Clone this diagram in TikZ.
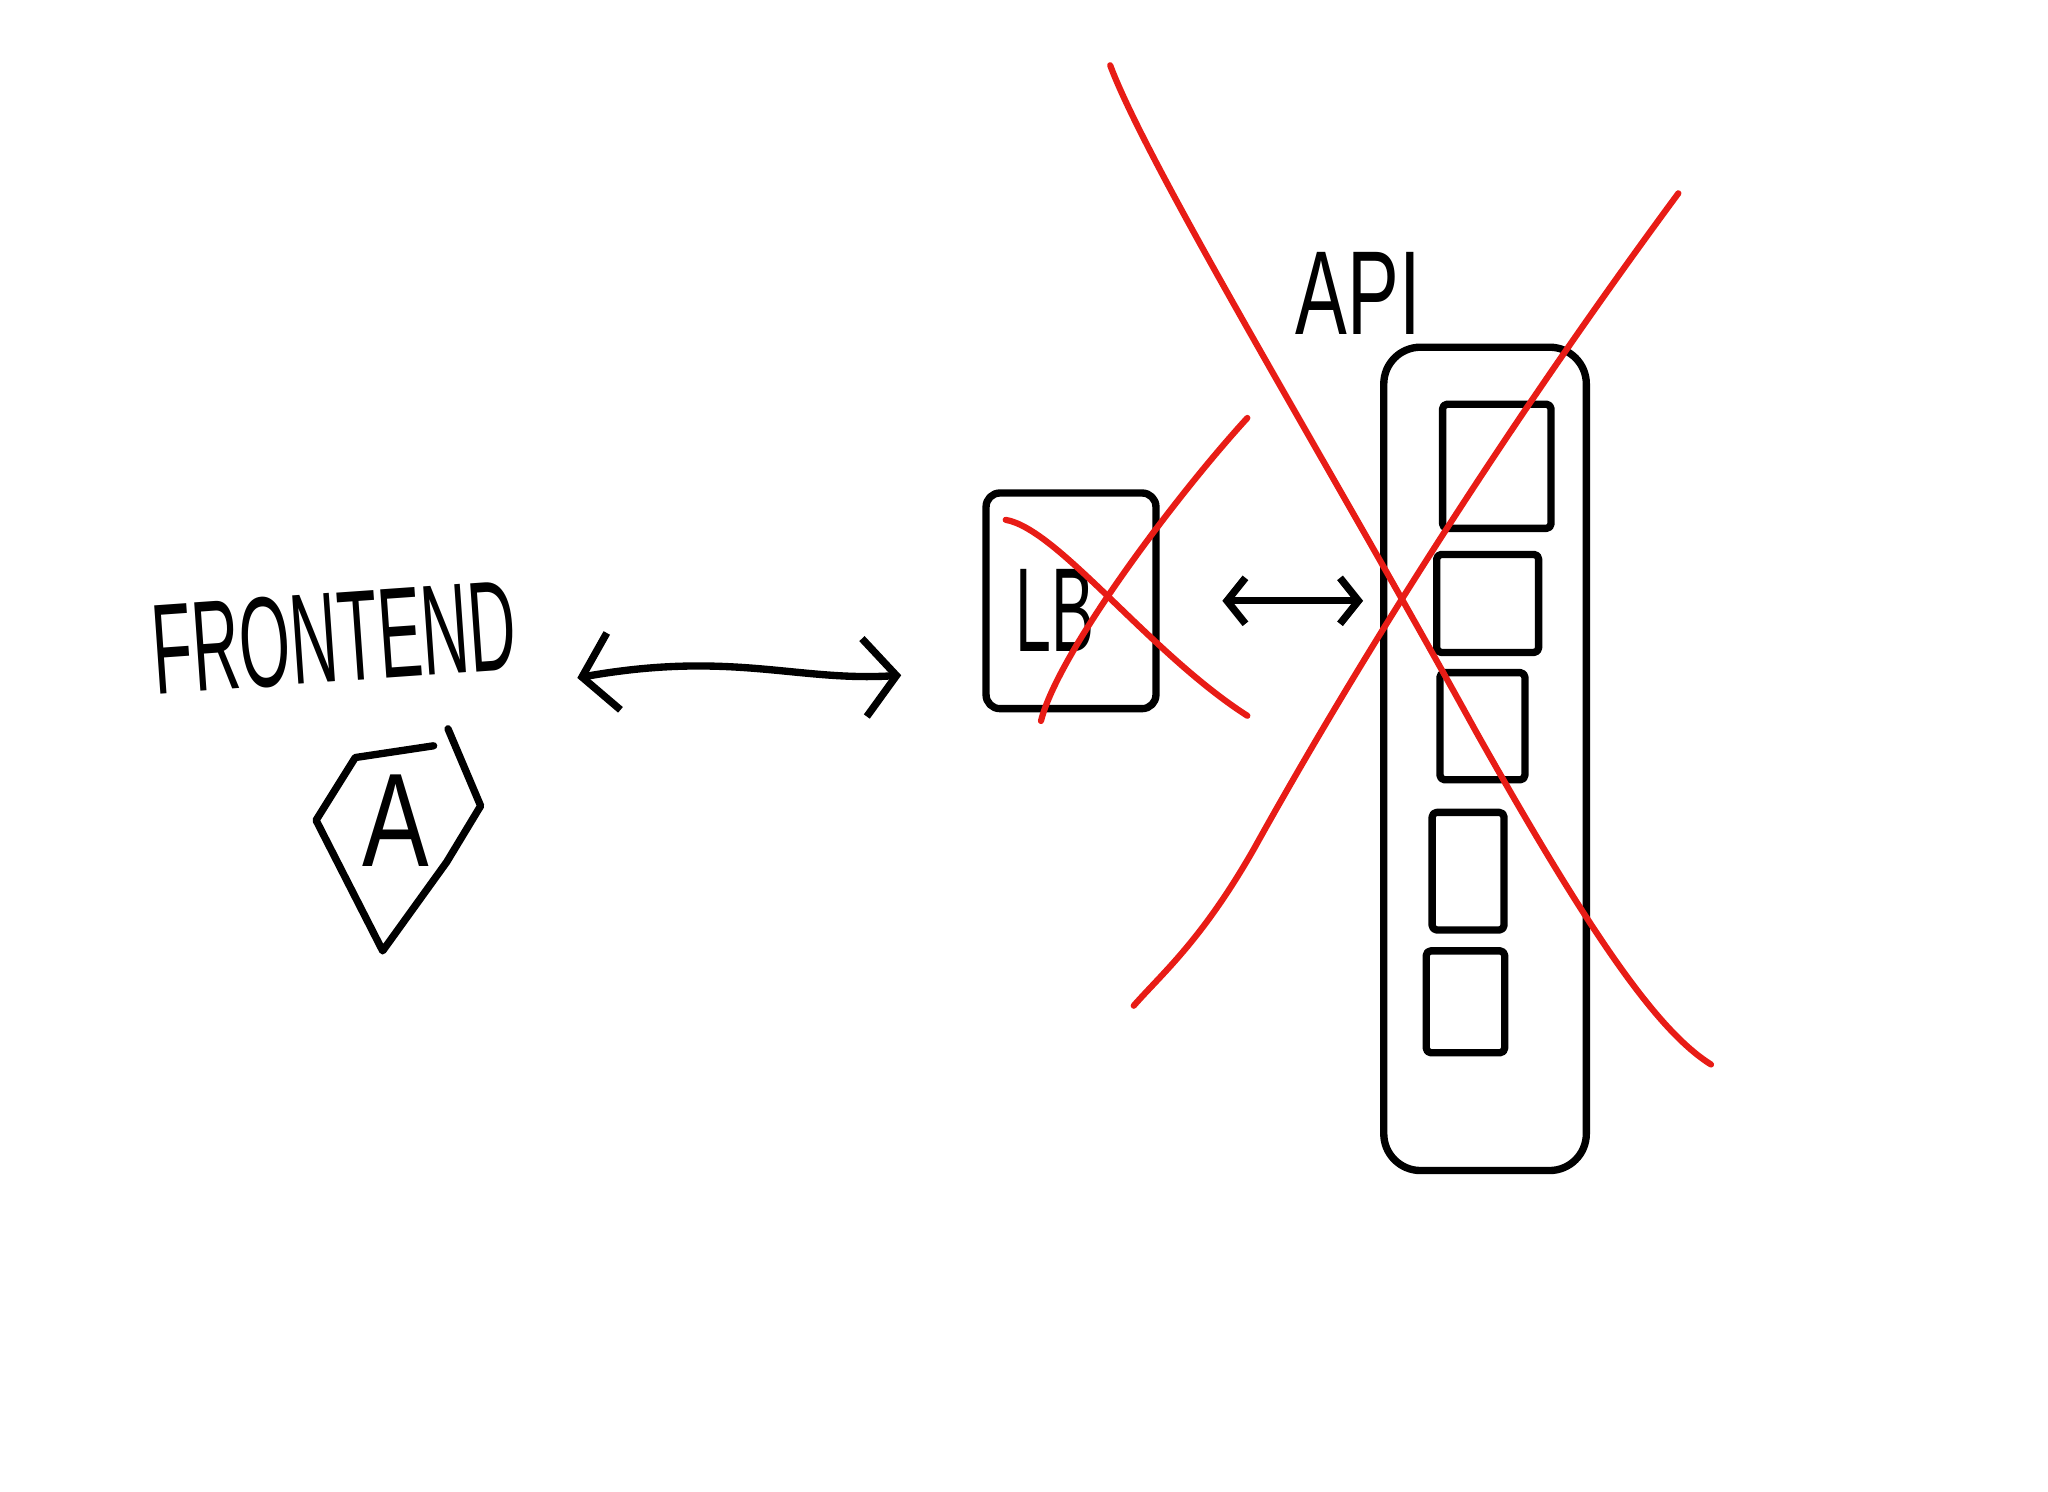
\documentclass[tikz,border=0pt]{standalone}
\usepackage{fontspec}
\setmainfont{Liberation Sans}
\usetikzlibrary{arrows.meta,positioning}
\definecolor{crossred}{RGB}{232,28,22}

\begin{document}
\begin{tikzpicture}[x=0.01cm, y=-0.01cm,
        sketch/.style={line width=1.6pt, line cap=round, line join=round},
        strike/.style={crossred, line width=1.35pt, line cap=round},
        box/.style={draw, sketch, rounded corners=3pt, inner sep=0pt},
        hand/.style={font=\fontsize{#1}{#1}\selectfont, inner sep=0pt},
        wide/.style={sketch, {Straight Barb[length=7pt, width=17pt]}-{Straight Barb[length=7pt, width=17pt]}},
        narrow/.style={sketch, {Straight Barb[length=4pt, width=10pt]}-{Straight Barb[length=4pt, width=10pt]}}]
        \useasboundingbox (0,0) rectangle (1568,1142);

        % Define nodes
        \node[hand=28, rotate=4] (front) at (256,488) {\scalebox{0.51}[1]{FRONTEND}};
        \node[hand=29] (a) at (303,628) {\scalebox{0.75}[1]{A}};
        \node[box, minimum width=1.3cm, minimum height=1.65cm] (lb) at (820,460) {};
        \node[hand=26] (lbtext) at (808,467) {\scalebox{0.54}[1]{LB}};
        \node[box, rounded corners=8pt, minimum width=1.55cm, minimum height=6.3cm] (api) at (1137,581) {};
        \node[hand=26] (apilabel) at (1040,225) {\scalebox{0.65}[1]{API}};

        % Boxes inside the API
        \foreach \cx/\cy/\w/\h [count=\i] in {1146/357/83/95, 1139/462/78/75, 1135/556/65/82, 1124/667/55/90, 1122/767/60/78}
            \node[box, rounded corners=1pt, minimum width=\w*0.1mm, minimum height=\h*0.1mm] (srv\i) at (\cx,\cy) {};

        % Shape round A
        \draw[sketch] (332,571) -- (272,580) -- (242,628) -- (293,728) -- (342,660) -- (368,617) -- (343,558);

        % Draw arrows
        \coordinate (fl) at (442,519);
        \coordinate (fr) at (690,517);
        \draw[wide] (fl) .. controls (560,498) and (610,522) .. (fr);
        \draw[narrow, shorten <=4.8mm, shorten >=1.3mm] (lb.east) -- (lb.east -| api.west);

        % Cross out LB and API
        \draw[strike] (770,398) .. controls (810,405) and (880,500) .. (955,548);
        \draw[strike] (797,552) .. controls (810,500) and (900,380) .. (955,320);
        \draw[strike] (850,50) .. controls (880,130) and (1020,360) .. (1130,560) .. controls (1220,720) and (1270,790) .. (1310,815);
        \draw[strike] (1285,148) .. controls (1180,290) and (1060,470) .. (960,650) .. controls (920,720) and (890,745) .. (868,770);
\end{tikzpicture}
\end{document}
